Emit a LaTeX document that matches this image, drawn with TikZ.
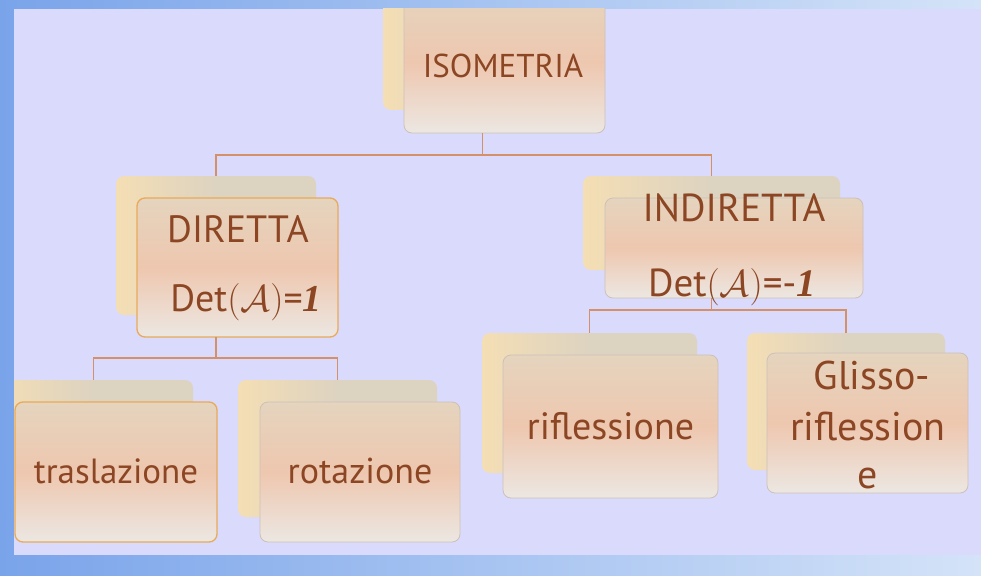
\documentclass[tikz,border=0pt]{standalone}
\usepackage{graphicx}
\usepackage{fontspec}
\setmainfont{PT Sans}
\newfontfamily\numfont{Liberation Serif}
\definecolor{bgL}{RGB}{122,164,234}
\definecolor{bgR}{RGB}{212,227,248}
\definecolor{lav}{RGB}{218,218,252}
\definecolor{txt}{RGB}{140,70,35}
\definecolor{conn}{RGB}{212,145,105}
\definecolor{ftop}{RGB}{229,212,190}
\definecolor{fmid}{RGB}{238,199,175}
\definecolor{fbot}{RGB}{236,231,226}
\definecolor{byel}{RGB}{244,222,180}
\definecolor{bbei}{RGB}{221,211,193}
\definecolor{edgeO}{RGB}{232,170,90}
\definecolor{edgeG}{RGB}{205,192,184}
\newcommand{\detA}[1]{Det\scalebox{1.5}{\fontsize{24.88}{30}\selectfont$(\mathcal{A})$}=#1{\numfont\itshape\bfseries 1}}
\newcommand{\fs}[1]{\fontsize{#1}{#1}\selectfont}
\tikzset{
  backbox/.style={rectangle, rounded corners=8pt, inner sep=0pt, outer sep=0pt,
    left color=byel, right color=bbei, middle color=bbei},
  frontbox/.style={rectangle, rounded corners=8pt, inner sep=0pt, outer sep=0pt,
    top color=ftop, bottom color=fbot, middle color=fmid, draw=edgeG, line width=0.8pt},
  hot/.style={draw=edgeO, line width=1.3pt},
  lbl/.style={text=txt, inner sep=0pt, anchor=base},
  connector/.style={draw=conn, line width=1.5pt},
}
\begin{document}
\begin{tikzpicture}[x=1pt, y=-1pt]
\useasboundingbox (0,0) rectangle (981,575);
\shade[left color=bgL, right color=bgR] (0,0) rectangle (981,575);
\fill[lav] (14,9) rectangle (981,555);
\begin{scope}
\clip (14,9) rectangle (981,555);
% boxes
\node[backbox, minimum width=199pt, minimum height=140pt] (isoB) at (482.5,40) {};
\node[frontbox, minimum width=201pt, minimum height=141pt] (isoF) at (504.5,62.5) {};
\node[backbox, minimum width=200pt, minimum height=139pt] (dirB) at (216,245.5) {};
\node[frontbox, hot, minimum width=201pt, minimum height=139pt] (dirF) at (237.5,267.5) {};
\node[backbox, minimum width=257pt, minimum height=94pt] (indB) at (711.5,223) {};
\node[frontbox, minimum width=258pt, minimum height=100pt] (indF) at (734,248) {};
\node[backbox, minimum width=199pt, minimum height=140pt] (traB) at (93.5,450) {};
\node[frontbox, hot, minimum width=202pt, minimum height=140pt] (traF) at (116,472) {};
\node[backbox, minimum width=199pt, minimum height=137pt] (rotB) at (337.5,448.5) {};
\node[frontbox, minimum width=200pt, minimum height=140pt] (rotF) at (360,472) {};
\node[backbox, minimum width=215pt, minimum height=140pt] (rifB) at (589.5,403) {};
\node[frontbox, minimum width=215pt, minimum height=143pt] (rifF) at (610.5,426.5) {};
\node[backbox, minimum width=198pt, minimum height=137pt] (gliB) at (846,401.5) {};
\node[frontbox, minimum width=201pt, minimum height=140pt] (gliF) at (867.5,423) {};
% texts
\node[lbl, font=\fs{33}] (isoT) at (503,78) {ISOMETRIA};
\node[lbl, font=\fs{38}] (dirT1) at (238,242) {DIRETTA};
\node[lbl, font=\fs{38}] (dirT2) at (246,311) {\detA{}};
\node[lbl, font=\fs{39}] (indT1) at (734,221) {INDIRETTA};
\node[lbl, font=\fs{39}] (indT2) at (732,296) {\detA{-}};
\node[lbl, font=\fs{35}] (traT) at (116,483) {traslazione};
\node[lbl, font=\fs{36}] (rotT) at (360,483) {rotazione};
\node[lbl, font=\fs{38}] (rifT) at (610.5,439) {riflessione};
\node[lbl, font=\fs{40}] (gliT1) at (872,389) {Glisso-};
\node[lbl, font=\fs{40}] (gliT2) at (868,440) {riflession};
\node[lbl, font=\fs{40}] (gliT3) at (868,488) {e};
% connectors
\draw[connector] (isoF.south -| isoB.center) -- ++(0,22) coordinate (isoJ);
\draw[connector] (isoJ) -| (dirB.north);
\draw[connector] (isoJ) -| (indB.north);
\draw[connector] (dirF.south -| dirB.center) -- ++(0,21) coordinate (dirJ);
\draw[connector] (dirJ) -| (traB.north);
\draw[connector] (dirJ) -| (rotB.north);
\draw[connector] (indF.south -| indB.center) -- ++(0,12) coordinate (indJ);
\draw[connector] (indJ) -| (rifB.north);
\draw[connector] (indJ) -| (gliB.north);
\end{scope}
\end{tikzpicture}
\end{document}
